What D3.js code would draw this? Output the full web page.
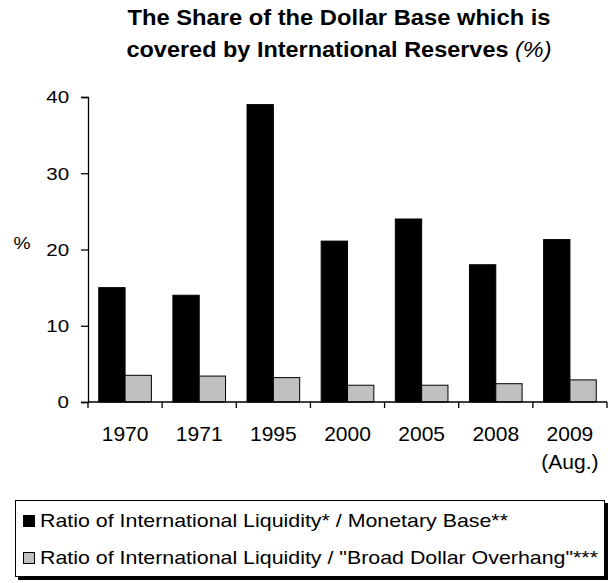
<!DOCTYPE html>
<html lang="en">
<head>
  <meta charset="UTF-8">
  <title>Dollar Base covered by International Reserves</title>
  <style>
    body { margin: 0; background: #fff; }
    text { font-family: "Liberation Sans", Arial, sans-serif; fill: #000; }
  </style>
</head>
<body>
  <svg width="616" height="583"></svg>
  <script src="https://cdn.jsdelivr.net/npm/d3@7"></script>
  <script>
    var categories = ['1970', '1971', '1995', '2000', '2005', '2008', '2009']
    var subLabels = ['', '', '', '', '', '', '(Aug.)']
    var liquidityToBase = [15, 14, 39, 21.1, 24, 18, 21.3]
    var liquidityToOverhang = [3.5, 3.4, 3.2, 2.2, 2.2, 2.4, 2.9]
    var seriesNames = [
      'Ratio of International Liquidity* / Monetary Base**',
      'Ratio of International Liquidity / "Broad Dollar Overhang"***'
    ]
    var seriesColors = ['#000000', '#c0c0c0']
    var yTicks = [0, 10, 20, 30, 40]

    var svg = d3.select('svg')

    // stretch text horizontally by k (the source chart is wider than tall)
    function stretch(sel, k) {
      sel.each(function() {
        var w = this.getComputedTextLength()
        d3.select(this).attr('textLength', w * k).attr('lengthAdjust', 'spacingAndGlyphs')
      })
    }
    function fitTo(sel, w) {
      sel.attr('textLength', w).attr('lengthAdjust', 'spacingAndGlyphs')
    }

    // title
    var title = svg.append('g').attr('text-anchor', 'middle')
    title.append('text')
      .attr('x', 339).attr('y', 25)
      .style('font-size', '21.5px').style('font-weight', 'bold')
      .text('The Share of the Dollar Base which is')
      .call(fitTo, 423)
    var t2 = title.append('text')
      .attr('x', 339).attr('y', 57)
      .style('font-size', '21.5px').style('font-weight', 'bold')
    t2.append('tspan').text('covered by International Reserves ')
    t2.append('tspan').style('font-weight', 'normal').style('font-style', 'italic').text('(%)')
    t2.call(fitTo, 425)

    // scales
    var x0 = d3.scaleBand().domain(categories).range([88, 607])
    var bw = x0.bandwidth()
    var x1 = d3.scaleBand().domain([0, 1]).range([bw * 0.145, bw * 0.855])
    var y = d3.scaleLinear().domain([0, 40]).range([402, 97])

    var rows = categories.map(function(c, i) {
      return { cat: c, values: [liquidityToBase[i], liquidityToOverhang[i]] }
    })

    // bars
    var groups = svg.append('g').selectAll('g')
      .data(rows)
      .enter()
      .append('g')
      .attr('transform', function(d) { return 'translate(' + x0(d.cat) + ',0)' })

    groups.selectAll('rect')
      .data(function(d) { return d.values.map(function(v, j) { return { v: v, j: j } }) })
      .enter()
      .append('rect')
      .attr('x', function(d) { return x1(d.j) })
      .attr('width', x1.bandwidth())
      .attr('y', function(d) { return y(d.v) })
      .attr('height', function(d) { return y(0) - y(d.v) })
      .attr('fill', function(d) { return seriesColors[d.j] })
      .attr('stroke', '#000')
      .attr('stroke-width', 1)

    // y axis
    var yAxis = svg.append('g')
      .attr('transform', 'translate(88,0)')
      .call(d3.axisLeft(y).tickValues(yTicks).tickSize(7).tickPadding(12))
    yAxis.select('.domain').attr('stroke', '#000').attr('stroke-width', 1.3)
    yAxis.selectAll('.tick line').attr('stroke', '#000').attr('stroke-width', 1.3)
    yAxis.selectAll('.tick text')
      .attr('font-family', null)
      .attr('dy', '0.36em')
      .style('font-size', '16px')
      .call(stretch, 1.28)

    svg.append('text')
      .attr('x', 22).attr('y', 249)
      .attr('text-anchor', 'middle')
      .style('font-size', '16px')
      .text('%')
      .call(stretch, 1.2)

    // x axis: ticks between categories
    var xg = svg.append('g')
    xg.append('line')
      .attr('x1', x0.range()[0]).attr('x2', x0.range()[1])
      .attr('y1', y(0)).attr('y2', y(0))
      .attr('stroke', '#000').attr('stroke-width', 1.3)
    var bounds = categories.map(function(c) { return x0(c) }).concat([x0.range()[1]])
    xg.selectAll('line.tk')
      .data(bounds)
      .enter()
      .append('line')
      .attr('class', 'tk')
      .attr('x1', function(d) { return d }).attr('x2', function(d) { return d })
      .attr('y1', y(0)).attr('y2', y(0) + 6)
      .attr('stroke', '#000').attr('stroke-width', 1.3)

    xg.selectAll('text.cat')
      .data(categories)
      .enter()
      .append('text')
      .attr('class', 'cat')
      .attr('text-anchor', 'middle')
      .attr('x', function(d) { return x0(d) + bw / 2 })
      .attr('y', 441)
      .style('font-size', '21px')
      .text(function(d) { return d })
    xg.selectAll('text.sub')
      .data(categories.filter(function(c, i) { return subLabels[i] }))
      .enter()
      .append('text')
      .attr('class', 'sub')
      .attr('text-anchor', 'middle')
      .attr('x', function(d) { return x0(d) + bw / 2 })
      .attr('y', 469)
      .style('font-size', '21px')
      .text(function(d) { return subLabels[categories.indexOf(d)] })

    // legend
    var legend = svg.append('g')
    legend.append('rect')
      .attr('x', 18).attr('y', 503).attr('width', 590).attr('height', 77)
      .attr('fill', '#000')
    legend.append('rect')
      .attr('x', 15.5).attr('y', 500.5).attr('width', 589).attr('height', 76)
      .attr('fill', '#fff').attr('stroke', '#000').attr('stroke-width', 1)

    var items = legend.selectAll('g.item')
      .data(seriesNames)
      .enter()
      .append('g')
      .attr('class', 'item')
      .attr('transform', function(d, i) { return 'translate(0,' + (i * 37) + ')' })
    items.append('rect')
      .attr('x', 23.5).attr('y', 515.5).attr('width', 11).attr('height', 11)
      .attr('fill', function(d, i) { return seriesColors[i] })
      .attr('stroke', '#000')
    var legendWidths = [468, 558]
    items.append('text')
      .attr('x', 40).attr('y', 527)
      .style('font-size', '19px')
      .text(function(d) { return d })
      .each(function(d, i) { d3.select(this).call(fitTo, legendWidths[i]) })
  </script>
</body>
</html>
